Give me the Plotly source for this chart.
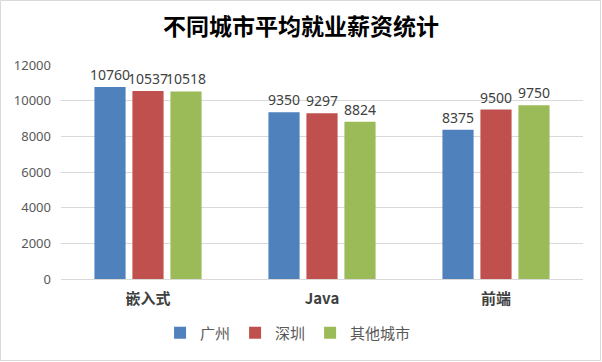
import plotly.graph_objects as go

categories = ["嵌入式", "Java", "前端"]
series_names = ["广州", "深圳", "其他城市"]
guangzhou = [10760, 9350, 8375]
shenzhen = [10537, 9297, 9500]
others = [10518, 8824, 9750]
colors = ["#4F81BD", "#C0504D", "#9BBB59"]
y_ticks = [0, 2000, 4000, 6000, 8000, 10000, 12000]

W, H = 602, 362
ml, mr, mt, mb = 61, 19, 65, 83

fig = go.Figure()
for name, vals, c in zip(series_names, [guangzhou, shenzhen, others], colors):
    fig.add_trace(go.Bar(
        x=categories, y=vals, name=name, marker=dict(color=c, line=dict(width=0)),
        text=[str(v) for v in vals], textposition="outside", cliponaxis=False,
        constraintext="none",
        textfont=dict(family="Noto Sans, Noto Sans CJK SC", size=14, color="#404040"),
    ))

pw = W - ml - mr
ph = H - mt - mb
fig.add_shape(type="rect", xref="paper", yref="paper",
              x0=(0.5 - ml) / pw, x1=(W - 1.5 - ml) / pw,
              y0=-(H - 1.5 - mt - ph) / ph, y1=1 + (mt - 0.5) / ph,
              line=dict(color="#D9D9D9", width=1), layer="below")

fig.update_layout(
    width=W, height=H,
    margin=dict(l=ml, r=mr, t=mt, b=mb),
    paper_bgcolor="white", plot_bgcolor="white",
    barmode="group", bargap=0.345, bargroupgap=0.18,
    title=dict(text="<b>不同城市平均就业薪资统计</b>", x=0.5, xanchor="center", y=0.925, yanchor="middle",
               font=dict(family="Noto Sans CJK SC", size=23, color="#000000")),
    xaxis=dict(showline=True, linecolor="#D9D9D9", ticks="", showgrid=False, ticklabelstandoff=6,
               tickfont=dict(family="Noto Sans CJK SC", size=15, color="#404040")),
    yaxis=dict(range=[0, 12000], tickvals=y_ticks, ticktext=[str(t) for t in y_ticks],
               showgrid=True, gridcolor="#D9D9D9", zeroline=False, showline=False,
               tickfont=dict(family="Noto Sans", size=13, color="#595959"), ticklabelstandoff=9),
    legend=dict(orientation="h", x=0.435, xanchor="center", y=-0.252, yanchor="middle",
                font=dict(family="Noto Sans CJK SC", size=15, color="#595959"),
                itemwidth=30, traceorder="normal"),
    showlegend=True,
)
fig.update_xaxes(ticktext=["<b>" + c + "</b>" for c in categories], tickvals=categories)
fig.write_html("out.html", config={"displayModeBar": False},
               post_script="document.body.style.margin='0';document.body.style.padding='0';")
